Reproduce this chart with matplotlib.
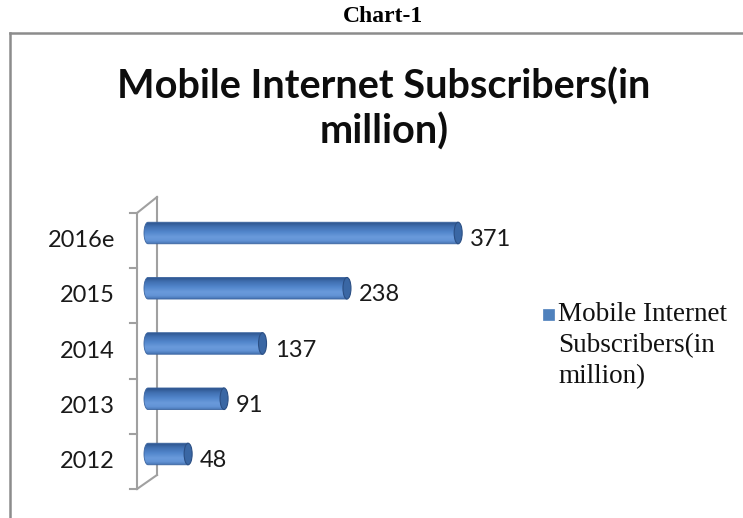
import numpy as np
import matplotlib
matplotlib.use("Agg")
import matplotlib.pyplot as plt
from matplotlib.patches import Ellipse, Rectangle, PathPatch
from matplotlib.path import Path
from matplotlib.lines import Line2D
from matplotlib.colors import LinearSegmentedColormap

# ---- data ----
categories = ["2012", "2013", "2014", "2015", "2016e"]
values = [48, 91, 137, 238, 371]
series_name = "Mobile Internet\nSubscribers(in\nmillion)"
chart_title = "Mobile Internet Subscribers(in\nmillion)"
caption = "Chart-1"

W, H = 743, 518
fig = plt.figure(figsize=(W / 100, H / 100), dpi=100)
fig.patch.set_facecolor("white")

# pixel geometry
S = 0.836            # px per unit
X0 = 148             # pixel of value 0
YC0 = 454            # pixel of first bar centre
DY = 55.25           # px per category
xlim = (-20, 400)
ylim = (-0.8, 4.8)
left = (X0 + xlim[0] * S) / W
width = (xlim[1] - xlim[0]) * S / W
bottom = 1 - (YC0 - ylim[0] * DY) / H
height = (ylim[1] - ylim[0]) * DY / H
ax = fig.add_axes([left, bottom, width, height])
ax.set_xlim(*xlim)
ax.set_ylim(*ylim)
ax.axis("off")

def dx(px):
    return (px - X0) / S

def dy(py):
    return (YC0 - py) / DY

# 3D wall lines
wall = dict(color="#A0A0A0", lw=1.5, zorder=1, clip_on=False)
ax.plot([dx(137), dx(137)], [dy(213), dy(489)], **wall)
ax.plot([dx(157), dx(157)], [dy(197), dy(475)], **wall)
ax.plot([dx(137), dx(157)], [dy(213), dy(197)], **wall)
ax.plot([dx(137), dx(157)], [dy(489), dy(475)], **wall)
for k in range(-1, len(categories)):
    ty = YC0 - DY * (k + 0.5) + 7.5
    ax.plot([dx(130), dx(137)], [dy(ty), dy(ty)], **wall)

# bars
ypos = np.arange(len(categories))
bh = 0.39
bars = ax.barh(ypos, values, height=bh, color="none", edgecolor="none", zorder=3)

cmap = LinearSegmentedColormap.from_list(
    "cyl", [(0.0, "#4673B2"), (0.15, "#6394D6"), (0.32, "#6A9ADB"),
            (0.55, "#5286CC"), (0.8, "#406FB0"), (1.0, "#2C538B")])
grad = np.linspace(0, 1, 64).reshape(-1, 1)
a = 4.0 / S  # ellipse semi-width in data units

for rect, v in zip(bars, values):
    y0 = rect.get_y()
    y1 = y0 + rect.get_height()
    yc = (y0 + y1) / 2
    b = (y1 - y0) / 2
    t = np.linspace(0, np.pi, 40)
    xs = list(-a * np.sin(t)) + [v, v]
    ys = list(yc + b * np.cos(t)) + [y0, y1]
    verts = list(zip(xs, ys)) + [(xs[0], ys[0])]
    codes = [Path.MOVETO] + [Path.LINETO] * (len(verts) - 2) + [Path.CLOSEPOLY]
    body = PathPatch(Path(verts, codes), facecolor="none", edgecolor="#3A64A0",
                     lw=0.6, zorder=4)
    ax.add_patch(body)
    im = ax.imshow(grad, cmap=cmap, aspect="auto", extent=(-a, v, y1, y0),
                   zorder=3, interpolation="bilinear")
    im.set_clip_path(body)
    cap = Ellipse((v, yc), 2 * a, 2 * b, facecolor="#3A67A4",
                  edgecolor="#2B4F84", lw=0.8, zorder=5)
    ax.add_patch(cap)
    ax.text(v + 12 / S, yc - 0.12, str(v), fontsize=17, family="Lato",
            color="#1A1A1A", ha="left", va="center", zorder=6)

ax.set_xlim(*xlim)
ax.set_ylim(*ylim)

# category labels
for i, c in enumerate(categories):
    ax.text(dx(115), i - 7.5 / DY, c, fontsize=17, family="Lato",
            color="#1A1A1A", ha="right", va="center")

# titles
fig.text(383 / W, 1 - 17 / H, caption, fontsize=17, family="Liberation Serif",
         fontweight="bold", ha="center", va="center")
fig.text(384 / W, 1 - 109 / H, chart_title, fontsize=28.5, family="Lato",
         fontweight="bold", ha="center", va="center", linespacing=1.23,
         color="#0D0D0D")

# legend
fig.add_artist(Rectangle((543 / W, 1 - 320 / H), 11 / W, 11 / H,
                         transform=fig.transFigure, facecolor="#4F81BD",
                         edgecolor="#4F81BD", lw=0.5))
fig.text(558 / W, 1 - 302 / H, series_name, fontsize=19.5,
         family="Liberation Serif", ha="left", va="top", linespacing=1.33,
         color="#111111")

# outer frame
fc = "#8C8C8C"
fig.add_artist(Line2D([9.5 / W, 9.5 / W], [1 - 33 / H, 0], transform=fig.transFigure,
                      color=fc, lw=1.8))
fig.add_artist(Line2D([9.5 / W, 1], [1 - 33 / H, 1 - 33 / H], transform=fig.transFigure,
                      color=fc, lw=1.8))

fig.savefig("out.png", dpi=100)
